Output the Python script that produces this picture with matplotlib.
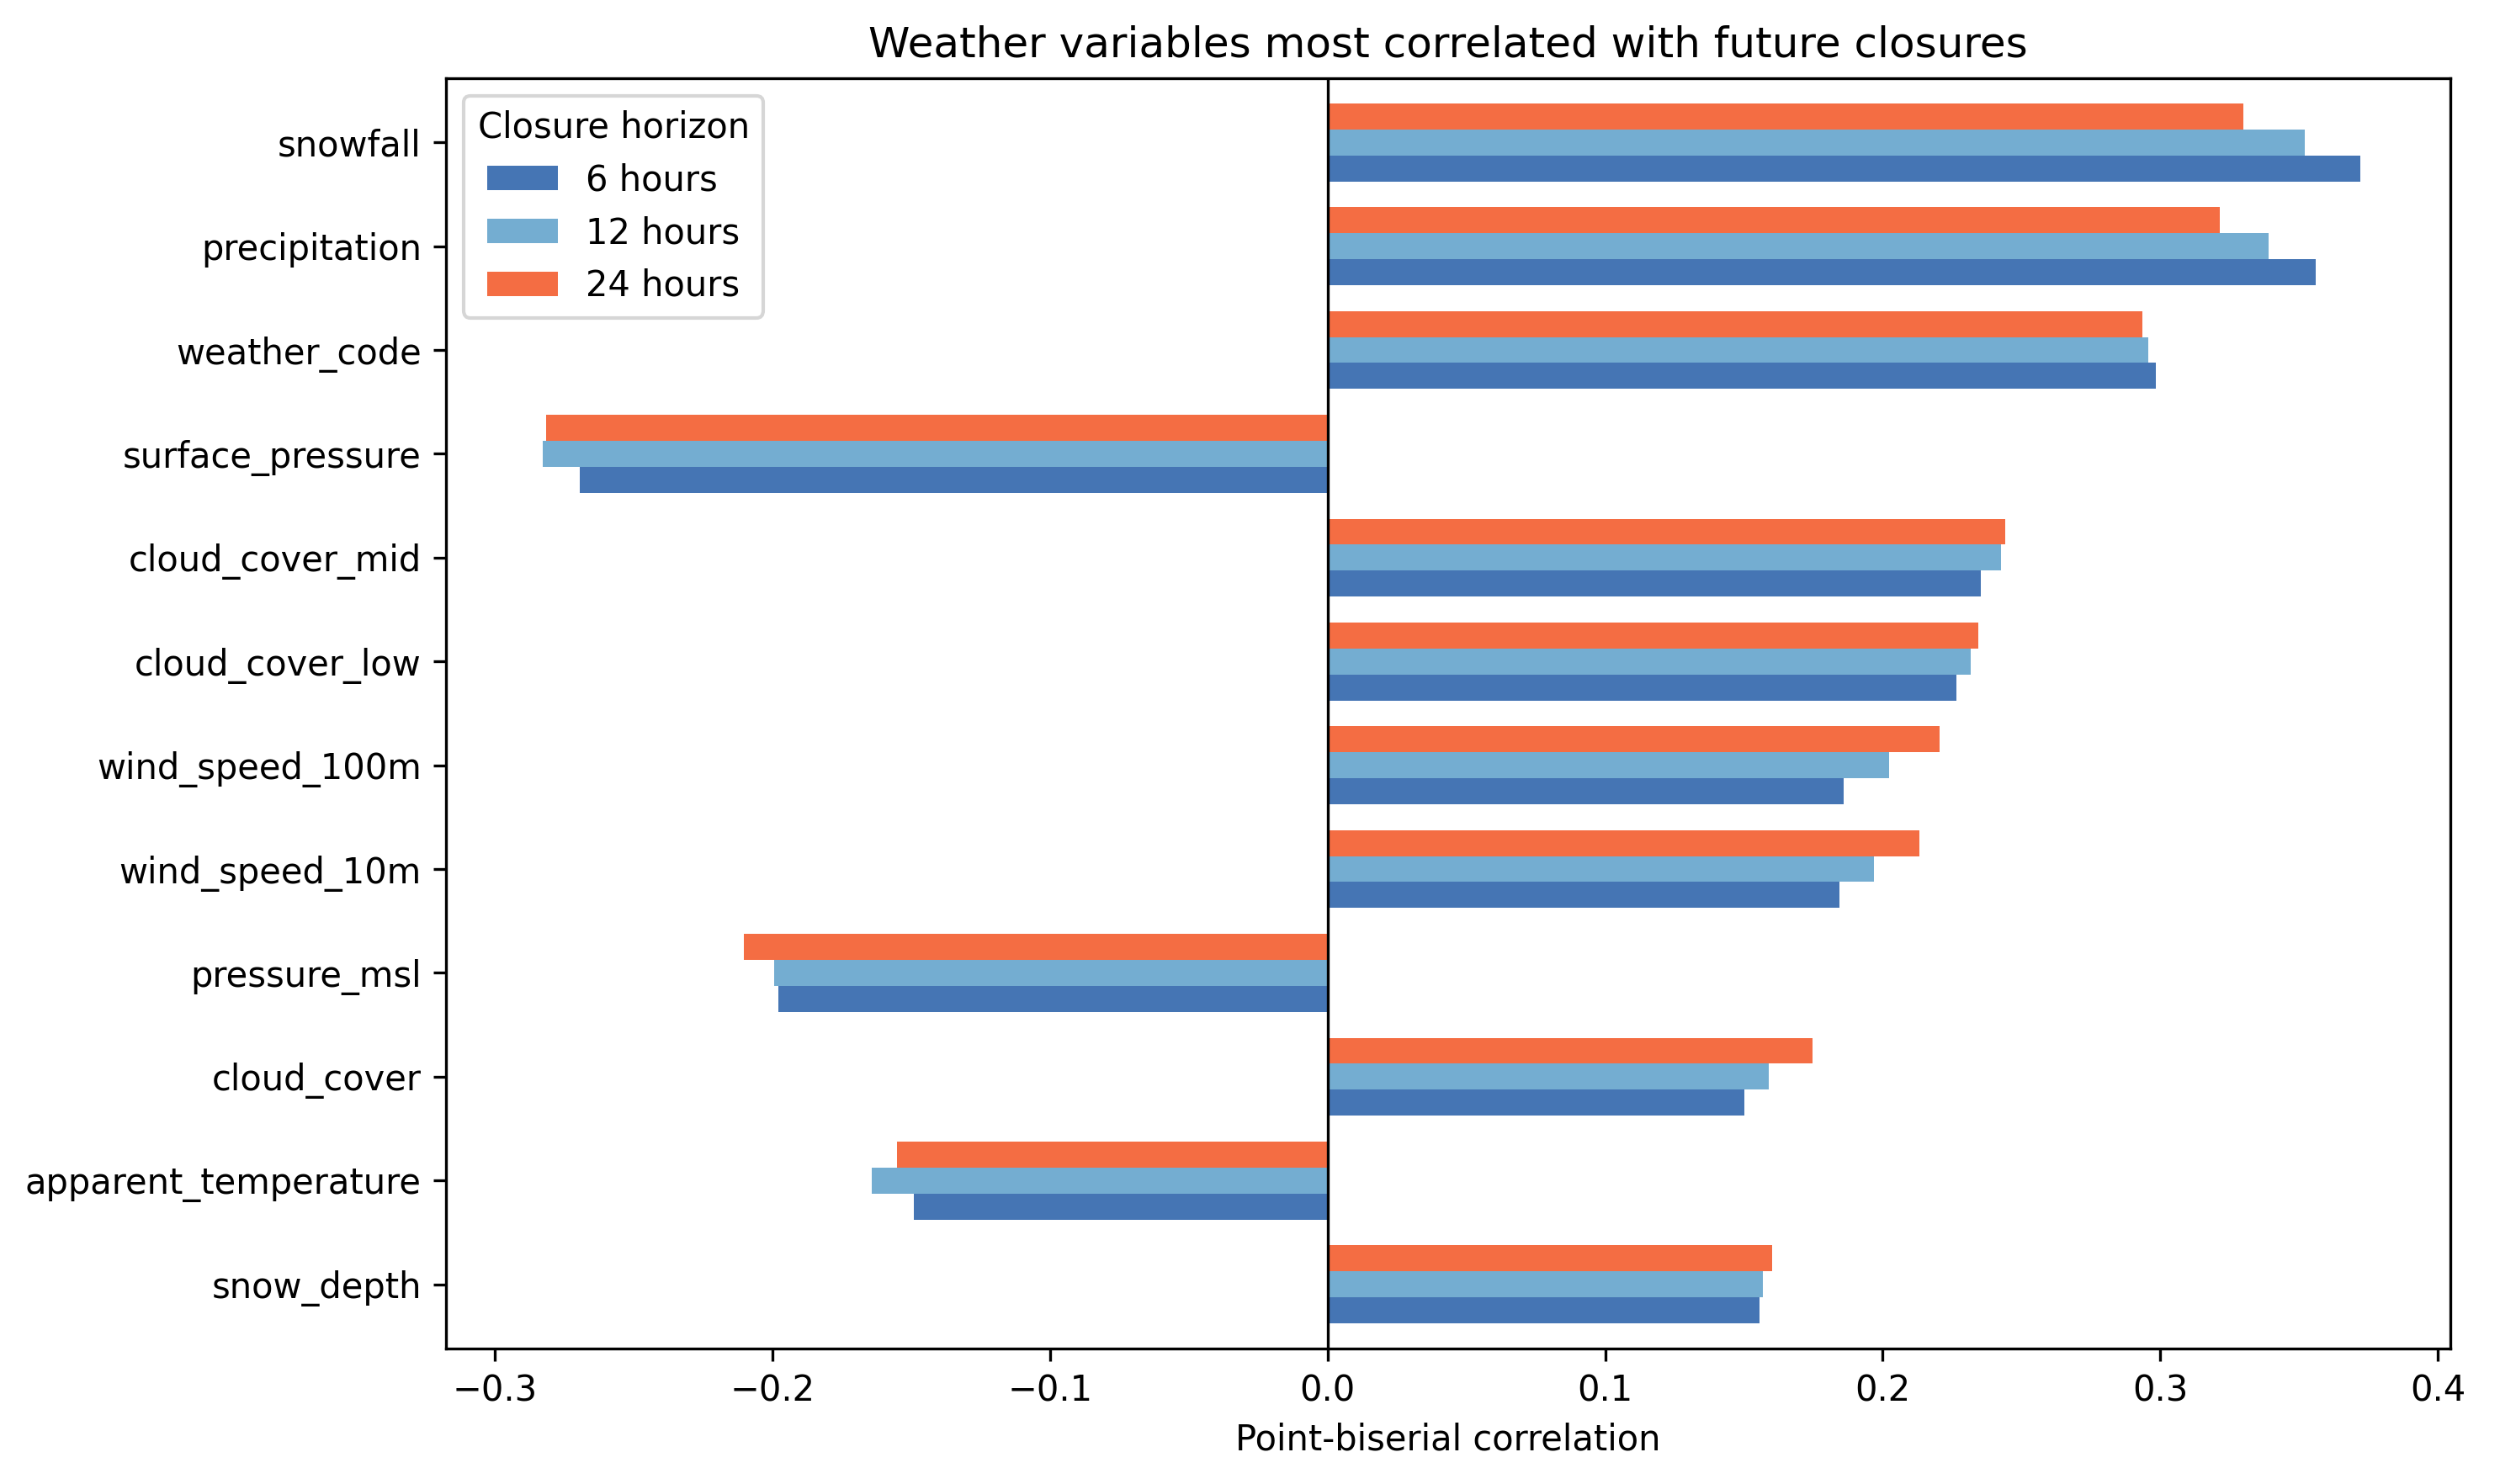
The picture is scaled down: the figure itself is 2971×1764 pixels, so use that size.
import numpy as np
from matplotlib import pyplot as plt

# variables, top to bottom
variables = ["snowfall", "precipitation", "weather_code", "surface_pressure",
             "cloud_cover_mid", "cloud_cover_low", "wind_speed_100m",
             "wind_speed_10m", "pressure_msl", "cloud_cover",
             "apparent_temperature", "snow_depth"]

# point-biserial correlation per closure horizon
corr_6h = [0.372, 0.356, 0.2985, -0.2694, 0.2353, 0.2265, 0.1859,
           0.1845, -0.1979, 0.1501, -0.1489, 0.1557]
corr_12h = [0.352, 0.3391, 0.2956, -0.2827, 0.2426, 0.2316, 0.2023,
            0.1969, -0.1993, 0.1588, -0.1642, 0.1568]
corr_24h = [0.3298, 0.3213, 0.2934, -0.2815, 0.2440, 0.2344, 0.2206,
            0.2133, -0.2102, 0.1746, -0.1551, 0.1602]

horizons = ["6 hours", "12 hours", "24 hours"]
colors = ["#4575b4", "#74add1", "#f46d43"]

fig = plt.figure(figsize=(2971/300, 1764/300), dpi=300)
ax = fig.add_axes([0.1784, 0.0913, 0.8018, 0.856])

y = np.arange(len(variables))[::-1]
h = 0.25
for i, (vals, lab, col) in enumerate(zip([corr_6h, corr_12h, corr_24h], horizons, colors)):
    ax.barh(y + (i - 1) * h, vals, height=h, color=col, label=lab)

ax.axvline(0, color="black", linewidth=0.8)
ax.set_yticks(y)
ax.set_yticklabels(variables)
ax.set_xlim(-0.3175, 0.4045)
ax.set_ylim(-0.618, len(variables) - 1 + 0.618)
ax.set_xlabel("Point-biserial correlation")
ax.set_title("Weather variables most correlated with future closures")
ax.legend(title="Closure horizon", loc="upper left")

fig.savefig("out.png", dpi=300)
